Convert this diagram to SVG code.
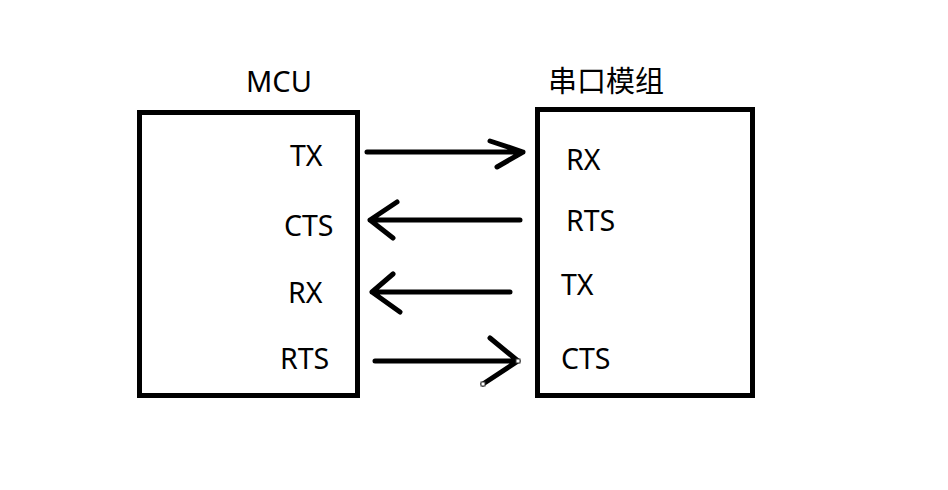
<svg xmlns="http://www.w3.org/2000/svg" width="948" height="490" viewBox="0 0 948 490">
<style>
.box{fill:none;stroke:#000;stroke-width:5}
.t{font-family:"Noto Sans","Open Sans","Liberation Sans",sans-serif;font-size:28.5px;fill:#000}
.h{font-family:"Noto Sans","Noto Sans CJK SC",sans-serif;font-size:29px;fill:#000}
.c{fill:none;stroke:#000;stroke-width:5;stroke-linecap:round;stroke-linejoin:round}
.hd{fill:#fff;stroke:#333;stroke-width:1}
</style>
<rect width="948" height="490" fill="#fff"/>
<g id="mcu">
<rect class="box" x="139.5" y="112.5" width="218" height="283"/>
<text class="h" x="246" y="92">MCU</text>
<text class="t" x="290" y="166">TX</text>
<text class="t" x="284" y="236">CTS</text>
<text class="t" x="288" y="303">RX</text>
<text class="t" x="280" y="369">RTS</text>
</g>
<g id="module">
<rect class="box" x="537.5" y="109.5" width="215" height="286"/>
<text class="h" x="548" y="92" font-family="'Noto Sans CJK SC',sans-serif">串口模组</text>
<text class="t" x="566" y="170">RX</text>
<text class="t" x="566" y="231">RTS</text>
<text class="t" x="561" y="295">TX</text>
<text class="t" x="561" y="369">CTS</text>
</g>
<g id="connectors">
<path class="c" d="M367 152H523M490 141L523 152L497 167"/>
<path class="c" d="M520 220H370M397 202L370 220L393 238"/>
<path class="c" d="M510 292H372M393 274L372 292L400 312"/>
<path class="c" d="M375 361H518M490 338L518 361L483 384"/>
<rect class="hd" x="516" y="359" width="4" height="4"/>
<rect class="hd" x="481" y="382" width="4" height="4"/>
</g>
</svg>
